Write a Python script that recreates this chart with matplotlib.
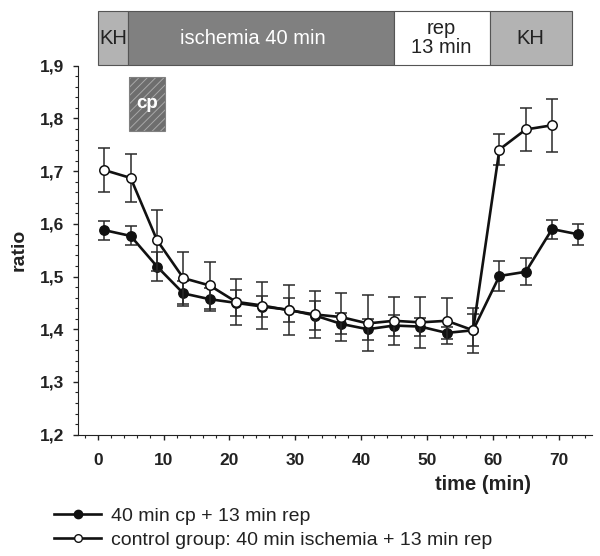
import matplotlib
matplotlib.use("Agg")
import matplotlib.pyplot as plt
from matplotlib.patches import Rectangle
from matplotlib.lines import Line2D
from matplotlib.ticker import MultipleLocator, FuncFormatter

plt.rcParams['font.family'] = ['Liberation Sans', 'DejaVu Sans']
plt.rcParams['hatch.linewidth'] = 0.7

time = [1, 5, 9, 13, 17, 21, 25, 29, 33, 37, 41, 45, 49, 53, 57, 61, 65, 69, 73]
cp_mean = [1.588, 1.577, 1.519, 1.468, 1.457, 1.450, 1.443, 1.437, 1.426, 1.410,
           1.400, 1.407, 1.405, 1.393, 1.398, 1.501, 1.509, 1.590, 1.580]
cp_err = [0.018, 0.018, 0.027, 0.024, 0.022, 0.025, 0.020, 0.023, 0.028, 0.020,
          0.020, 0.020, 0.017, 0.012, 0.030, 0.028, 0.026, 0.018, 0.020]
ctrl_time = time[:18]
ctrl_mean = [1.702, 1.687, 1.569, 1.497, 1.483, 1.452, 1.445, 1.436, 1.428, 1.423,
             1.411, 1.416, 1.413, 1.416, 1.398, 1.741, 1.779, 1.787]
ctrl_err = [0.042, 0.046, 0.058, 0.050, 0.044, 0.044, 0.045, 0.047, 0.045, 0.045,
            0.053, 0.045, 0.048, 0.044, 0.043, 0.030, 0.040, 0.050]

phase_labels = ['KH', 'ischemia 40 min', 'rep\n13 min', 'KH']
phase_start = [0, 4.6, 45, 59.5]
phase_end = [4.6, 45, 59.5, 72]
phase_label_x = [2.4, 23.6, 52.2, 65.7]
phase_colors = ['#b3b3b3', '#808080', '#ffffff', '#b3b3b3']
phase_text_colors = ['#222222', 'white', '#222222', '#222222']
cp_start, cp_end = 4.7, 10.2

series_labels = ['40 min cp + 13 min rep', 'control group: 40 min ischemia + 13 min rep']

fig = plt.figure(figsize=(6.0, 5.56), dpi=100)
ax = fig.add_axes([0.13, 0.2183, 0.856, 0.6635])

ax.errorbar(time, cp_mean, yerr=cp_err, fmt='-o', color='#111111', lw=1.9,
            ms=6.8, mfc='#111111', mec='#111111', ecolor='#2a2a2a', elinewidth=1.1,
            capsize=4, capthick=1.1, zorder=3)
ax.errorbar(ctrl_time, ctrl_mean, yerr=ctrl_err, fmt='-o', color='#111111', lw=1.9,
            ms=6.8, mfc='white', mec='#111111', mew=1.1, ecolor='#2a2a2a', elinewidth=1.1,
            capsize=4, capthick=1.1, zorder=4)

ax.set_xlim(-3, 75)
ax.set_ylim(1.2, 1.9)
ax.spines['top'].set_visible(False)
ax.spines['right'].set_visible(False)
ax.spines['left'].set_color('#222222')
ax.spines['bottom'].set_color('#222222')
ax.xaxis.set_major_locator(MultipleLocator(10))
ax.xaxis.set_minor_locator(MultipleLocator(2))
ax.yaxis.set_major_locator(MultipleLocator(0.1))
ax.yaxis.set_minor_locator(MultipleLocator(0.02))
ax.set_xticks(range(0, 71, 10))
ax.yaxis.set_major_formatter(FuncFormatter(lambda v, p: f"{v:.1f}".replace('.', ',')))
ax.tick_params(axis='both', which='major', length=3.5, width=1, color='#222222',
               labelsize=12.5)
ax.tick_params(axis='y', which='major', pad=6.5)
ax.tick_params(axis='x', which='major', pad=10)
ax.tick_params(axis='both', which='minor', length=2, width=0.8, color='#222222')
for lab in ax.get_xticklabels() + ax.get_yticklabels():
    lab.set_fontweight('bold')
    lab.set_color('#222222')

ax.set_ylabel('ratio', fontsize=14, fontweight='bold', color='#222222')
ax.yaxis.set_label_coords(-0.099, 0.5)
fig.text(483 / 600, 1 - 484 / 556, 'time (min)', fontsize=14.5, fontweight='bold',
         color='#222222', ha='center', va='center')

# top phase bar
for s, e, c, lx, lab, tc in zip(phase_start, phase_end, phase_colors, phase_label_x,
                                phase_labels, phase_text_colors):
    ax.add_patch(Rectangle((s, 1.901), e - s, 0.102, facecolor=c, edgecolor='#555555',
                           lw=0.8, clip_on=False, zorder=5))
    ax.text(lx, 1.952, lab, ha='center', va='center', fontsize=14.5,
            color=tc, clip_on=False, zorder=6, linespacing=1.0)

# cp box (hatched)
ax.add_patch(Rectangle((cp_start, 1.777), cp_end - cp_start, 0.101, facecolor='#6e6e6e',
                       edgecolor='#a8a8a8', lw=0, hatch='////', zorder=2))
ax.add_patch(Rectangle((cp_start, 1.777), cp_end - cp_start, 0.101, facecolor='none',
                       edgecolor='#808080', lw=0.8, zorder=2.1))
ax.text((cp_start + cp_end) / 2, 1.8275, 'cp', ha='center', va='center', fontsize=13.5,
        fontweight='bold', color='white', zorder=3)

handles = [
    Line2D([], [], color='#111111', lw=1.9, marker='o', ms=6, mfc='#111111', mec='#111111'),
    Line2D([], [], color='#111111', lw=1.9, marker='o', ms=5.5, mfc='white', mec='#111111'),
]
fig.legend(handles, series_labels, loc='upper left', bbox_to_anchor=(0.09, 0.088),
           frameon=False, fontsize=14, handlelength=2.43, handletextpad=0.5,
           labelspacing=0.32, labelcolor='#222222', borderaxespad=0, borderpad=0)

fig.savefig('out.png', dpi=100)
